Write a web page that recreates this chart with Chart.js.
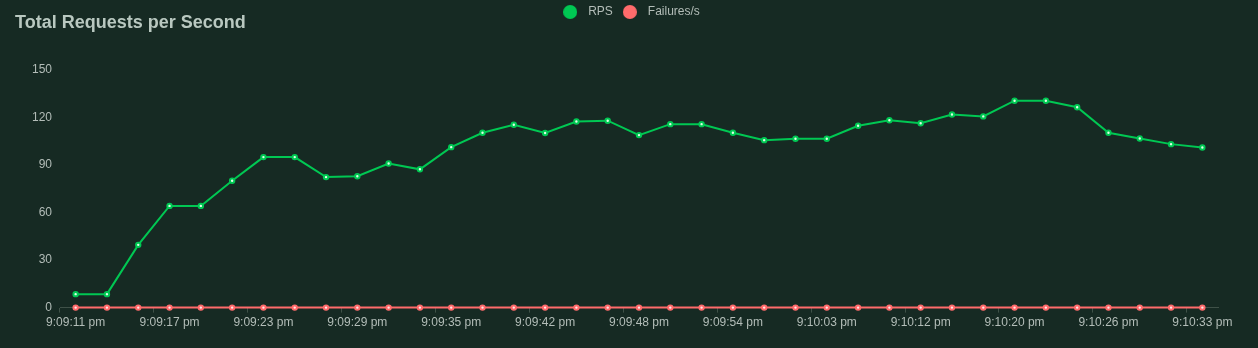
<!DOCTYPE html>
<html>
<head>
<meta charset="utf-8">
<script src="https://cdn.jsdelivr.net/npm/chart.js@4"></script>
<style>
  html, body { margin: 0; padding: 0; background: #162a23; }
  #wrap { position: relative; width: 1258px; height: 348px; }
  #title {
    position: absolute; left: 15px; top: 12px;
    font: bold 18px "Liberation Sans", Arial, sans-serif;
    color: #b9c8c0;
  }
  canvas { display: block; }
</style>
</head>
<body>
<div id="wrap">
  <div id="title">Total Requests per Second</div>
  <canvas id="chart" width="1258" height="348"></canvas>
</div>
<script>
// time labels (only every third one is printed on the axis)
var times = [
  '9:09:11 pm', '9:09:13 pm', '9:09:15 pm', '9:09:17 pm', '9:09:19 pm', '9:09:21 pm',
  '9:09:23 pm', '9:09:25 pm', '9:09:27 pm', '9:09:29 pm', '9:09:31 pm', '9:09:33 pm',
  '9:09:35 pm', '9:09:37 pm', '9:09:40 pm', '9:09:42 pm', '9:09:44 pm', '9:09:46 pm',
  '9:09:48 pm', '9:09:50 pm', '9:09:52 pm', '9:09:54 pm', '9:09:57 pm', '9:10:00 pm',
  '9:10:03 pm', '9:10:06 pm', '9:10:09 pm', '9:10:12 pm', '9:10:15 pm', '9:10:17 pm',
  '9:10:20 pm', '9:10:22 pm', '9:10:24 pm', '9:10:26 pm', '9:10:28 pm', '9:10:31 pm',
  '9:10:33 pm'
];

var rps = [
  8.5, 8.5, 39.6, 64.2, 64.2, 80.1, 95, 95, 82.4, 82.9, 91, 87.3,
  101.3, 110.4, 115.4, 110.2, 117.5, 118, 108.9, 115.8, 115.8, 110.4, 105.7, 106.6,
  106.6, 114.8, 118.3, 116.4, 121.9, 120.7, 130.6, 130.6, 126.5, 110.4, 106.8, 103.2,
  101.1
];

var failures = [
  0, 0, 0, 0, 0, 0, 0, 0, 0, 0, 0, 0,
  0, 0, 0, 0, 0, 0, 0, 0, 0, 0, 0, 0,
  0, 0, 0, 0, 0, 0, 0, 0, 0, 0, 0, 0,
  0
];

var yTicks = [0, 30, 60, 90, 120, 150];

var textColor = '#b3bdb8';
var axisColor = '#3f5148';
var font = { family: '"Liberation Sans", Arial, sans-serif', size: 12 };

// solid round legend marker
function dot(color) {
  var c = document.createElement('canvas');
  c.width = 14; c.height = 14;
  var g = c.getContext('2d');
  g.fillStyle = color;
  g.beginPath();
  g.arc(7, 7, 7, 0, Math.PI * 2);
  g.fill();
  return c;
}

// pushes the plot area down below the legend row
var legendSpace = {
  id: 'legendSpace',
  beforeInit: function (chart) {
    var fit = chart.legend.fit;
    chart.legend.fit = function () {
      fit.bind(chart.legend)();
      this.height += 42;
    };
  }
};

new Chart(document.getElementById('chart'), {
  type: 'line',
  data: {
    labels: times,
    datasets: [{
      label: 'RPS',
      data: rps,
      borderColor: '#00c853',
      backgroundColor: '#00c853',
      borderWidth: 2,
      pointRadius: 2.2,
      pointBorderWidth: 2,
      pointBackgroundColor: '#dfffe8',
      pointBorderColor: '#00c853',
      clip: false
    }, {
      label: 'Failures/s',
      data: failures,
      borderColor: '#ff6b6b',
      backgroundColor: '#ff6b6b',
      borderWidth: 2,
      pointRadius: 2.2,
      pointBorderWidth: 2,
      pointBackgroundColor: '#ffe6e6',
      pointBorderColor: '#ff6b6b',
      clip: false
    }]
  },
  options: {
    responsive: false,
    animation: false,
    layout: { padding: { top: 1, left: 0, right: 0, bottom: 15 } },
    plugins: {
      tooltip: { enabled: false },
      legend: {
        position: 'top',
        labels: {
          usePointStyle: true,
          pointStyleWidth: 24,
          boxHeight: 12,
          padding: 5,
          color: textColor,
          font: font,
          generateLabels: function (chart) {
            return chart.data.datasets.map(function (ds, i) {
              return {
                text: ds.label,
                pointStyle: dot(ds.borderColor),
                fillStyle: ds.borderColor,
                strokeStyle: ds.borderColor,
                lineWidth: 0,
                fontColor: textColor,
                hidden: false,
                datasetIndex: i
              };
            });
          }
        }
      }
    },
    scales: {
      x: {
        offset: true,
        border: { display: true, color: axisColor, width: 1 },
        grid: {
          offset: true,
          drawOnChartArea: false,
          drawTicks: true,
          tickLength: 5,
          color: function (ctx) {
            return (ctx.index % 3 === 0 || ctx.index === times.length) ? axisColor : 'rgba(0,0,0,0)';
          }
        },
        ticks: {
          autoSkip: false,
          maxRotation: 0,
          padding: 3,
          color: textColor,
          font: font,
          callback: function (v, i) { return i % 3 === 0 ? times[i] : ''; }
        }
      },
      y: {
        min: 0,
        max: 150,
        afterFit: function (scale) { scale.width = 60; },
        afterBuildTicks: function (scale) {
          scale.ticks = yTicks.map(function (v) { return { value: v }; });
        },
        border: { display: false },
        grid: { display: false, drawTicks: false },
        ticks: { padding: 8, color: textColor, font: font }
      },
      // empty right gutter so the legend stays centred on the full width
      gutter: {
        axis: 'y',
        position: 'right',
        afterFit: function (scale) { scale.width = 40; },
        border: { display: false },
        grid: { display: false, drawTicks: false },
        ticks: { display: false }
      }
    }
  },
  plugins: [legendSpace]
});
</script>
</body>
</html>
